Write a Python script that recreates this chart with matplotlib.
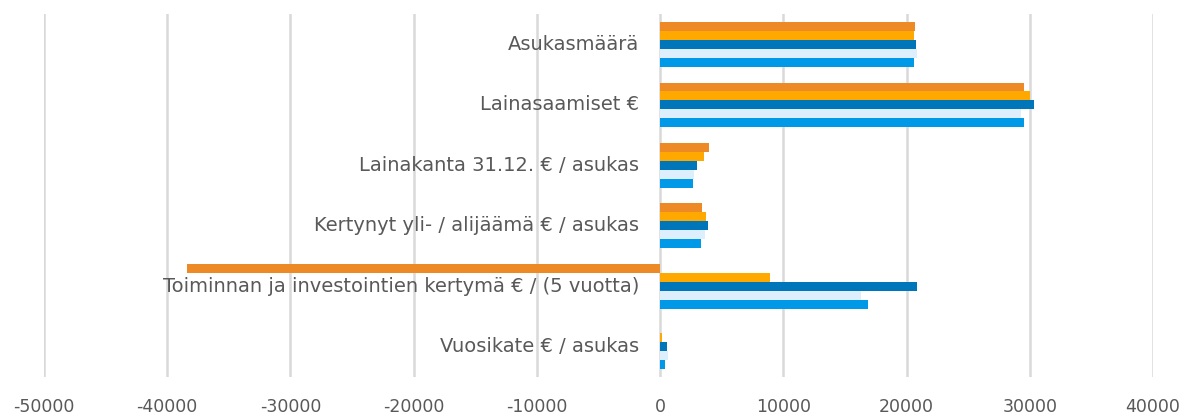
import numpy as np
import matplotlib
matplotlib.use("Agg")
import matplotlib.pyplot as plt

# Categories, top to bottom as shown
categories = [
    "Asukasmäärä",
    "Lainasaamiset €",
    "Lainakanta 31.12. € / asukas",
    "Kertynyt yli- / alijäämä € / asukas",
    "Toiminnan ja investointien kertymä € / (5 vuotta)",
    "Vuosikate € / asukas",
]

# Series values (bottom bar of each group first)
series_1 = [20640, 29540, 2650, 3330, 16880, 430]
series_2 = [20850, 29330, 2760, 3650, 16270, 650]
series_3 = [20800, 30330, 3000, 3900, 20860, 570]
series_4 = [20640, 30030, 3570, 3700, 8920, 190]
series_5 = [20720, 29510, 3950, 3380, -38420, 0]

series = [series_1, series_2, series_3, series_4, series_5]
colors = ["#0099E8", "#DDEEFC", "#0076BA", "#FFA800", "#EE8A25"]

x_ticks = list(range(-50000, 40001, 10000))

fig = plt.figure(figsize=(11.88, 4.17), dpi=100)
ax = fig.add_axes([0.037, 0.096, 0.9335, 0.870])

y = np.arange(len(categories))
h = 0.148
for i, (vals, col) in enumerate(zip(series, colors)):
    ax.barh(y + (2 - i) * h, vals, height=h, color=col, linewidth=0, zorder=3)

ax.set_xlim(-50000, 40000)
ax.set_ylim(-0.5, len(categories) - 0.5)
ax.invert_yaxis()
ax.set_xticks(x_ticks)
ax.set_xticklabels([str(t) for t in x_ticks])
ax.tick_params(axis="x", length=0, pad=15, labelsize=12.5, labelcolor="#595959")
ax.set_yticks([])
ax.grid(axis="x", color="#D9D9D9", linewidth=1.8, zorder=0)
for s in ax.spines.values():
    s.set_visible(False)

# category labels next to the zero axis
for i, cat in enumerate(categories):
    ax.annotate(cat, xy=(0, i), xytext=(-15, 0), textcoords="offset points",
                ha="right", va="center", fontsize=14, color="#595959", zorder=5)

fig.savefig("out.png", dpi=100)
